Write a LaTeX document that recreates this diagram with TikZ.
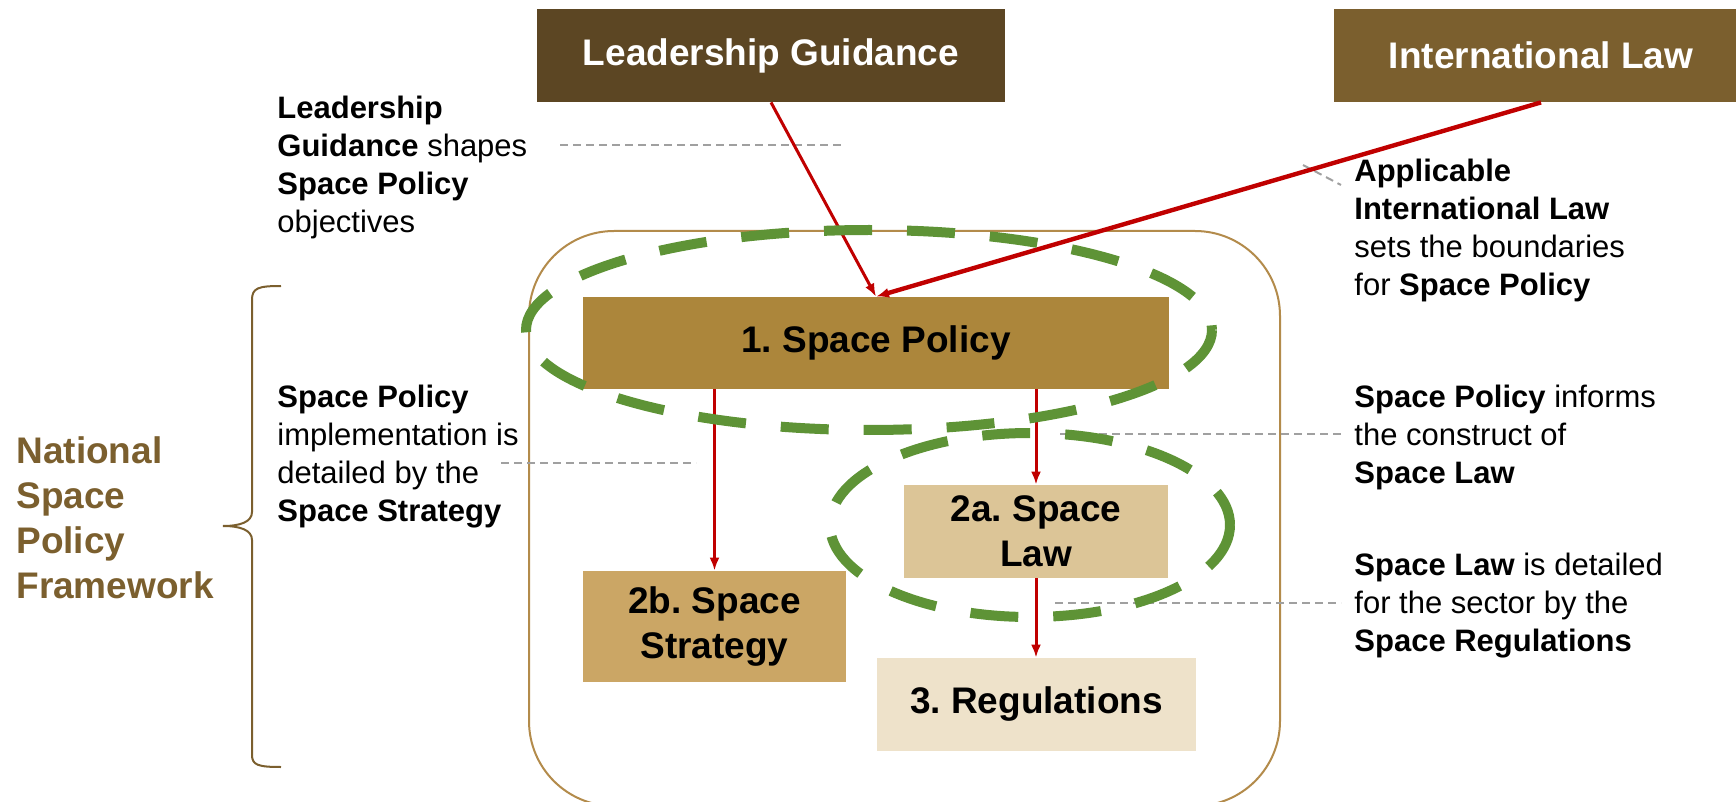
\documentclass[tikz,border=0pt]{standalone}
\usepackage{fontspec}
\setmainfont{Liberation Sans}
\usetikzlibrary{positioning,arrows.meta}

\definecolor{guidebrown}{HTML}{5C4623}
\definecolor{lawbrown}{HTML}{7B5F2E}
\definecolor{policygold}{HTML}{AC863B}
\definecolor{lawtan}{HTML}{DCC597}
\definecolor{strategytan}{HTML}{CBA665}
\definecolor{regcream}{HTML}{EEE2CA}
\definecolor{framebrown}{HTML}{B38B4B}
\definecolor{arrowred}{HTML}{C00000}
\definecolor{groupgreen}{HTML}{5E9336}
\definecolor{leadgray}{HTML}{A0A0A0}

\tikzset{
  box/.style={inner sep=0pt, align=center, font=\fontsize{18.5}{22.5}\selectfont\bfseries},
  note/.style={inner sep=0pt, align=left, anchor=base west, font=\fontsize{15.5}{19}\selectfont},
  flow/.style={-{Latex[length=6.5pt,width=5pt]}, arrowred, line width=1.5pt},
  leader/.style={leadgray, line width=1pt, dash pattern=on 4pt off 2.5pt},
  group/.style={groupgreen, line width=5pt, dash pattern=on 24pt off 17.5pt},
}

\begin{document}
\frenchspacing
\begin{tikzpicture}[x=0.5pt, y=-0.5pt]
		\useasboundingbox (0,0) rectangle (1736,802);
		% framework outline and brace
		\draw[framebrown, line width=1pt, rounded corners=42.5pt] (529,231) rectangle (1280,806);
		\draw[lawbrown, line width=1pt] (281,286) .. controls (258,286) and (252,288) .. (252,300) -- (252,512) .. controls (252,522) and (240,526) .. (223,526) .. controls (240,526) and (252,530) .. (252,540) -- (252,755) .. controls (252,765) and (258,767) .. (281,767);
		
		% last baselines
		\node[note, font=\fontsize{18.5}{22.5}\selectfont\bfseries, text=lawbrown] (npf) at (16,598) {National\\Space\\Policy\\Framework};
		
		% boxes
		\node[box, fill=guidebrown, text=white, minimum width=234pt, minimum height=46.5pt] (lg) at (771,55.5) {Leadership Guidance};
		\node[box, fill=lawbrown, text=white, minimum width=207pt, minimum height=46.5pt] (il) at (1541,55.5) {International Law};
		\node[box, fill=policygold, minimum width=293pt, minimum height=46pt] (sp) at (876,343) {1. Space Policy};
		\node[box, fill=lawtan, minimum width=132pt, minimum height=46.5pt] (sl) at (1036,531.5) {2a. Space\\Law};
		\node[box, fill=strategytan, minimum width=131.5pt, minimum height=55.5pt] (ss) at (714.5,626.5) {2b. Space\\Strategy};
		\node[box, fill=regcream, minimum width=159.5pt, minimum height=46.5pt] (reg) at (1036.5,704.5) {3. Regulations};
		
		% notes
		\node[note] (lgnote) at (277,233) {\textbf{Leadership}\\\textbf{Guidance} shapes\\\textbf{Space Policy}\\objectives};
		\node[note] (ilnote) at (1354,296) {\textbf{Applicable}\\\textbf{International Law}\\sets the boundaries\\for \textbf{Space Policy}};
		\node[note] (ssnote) at (277,521) {\textbf{Space Policy}\\implementation is\\detailed by the\\\textbf{Space Strategy}};
		\node[note] (slnote) at (1354,483) {\textbf{Space Policy} informs\\the construct of\\\textbf{Space Law}};
		\node[note] (regnote) at (1354,651) {\textbf{Space Law} is detailed\\for the sector by the\\\textbf{Space Regulations}};
		
		% leader lines
		\coordinate (lg1) at (560,145);
		\coordinate (lg2) at (845,145);
		\coordinate (il1) at (1303,165);
		\coordinate (il2) at (1341,185);
		\coordinate (ss1) at (501,463);
		\coordinate (ss2) at (696,463);
		\coordinate (sl1) at (1060,434);
		\coordinate (sl2) at (1341,434);
		\coordinate (reg1) at (1055,603);
		\coordinate (reg2) at (1341,603);
		\draw[leader] (lg1)--(lg2);
		\draw[leader] (il1)--(il2);
		\draw[leader] (ss1)--(ss2);
		\draw[leader] (sl1)--(sl2);
		\draw[leader] (reg1)--(reg2);
		
		% arrows
		\draw[flow] (lg.south)--(sp.north);
		\draw[flow, line width=2.2pt] (il.south)--(sp.north);
		\draw[flow] (ss.north |- sp.south)--(ss.north);
		\draw[flow] (sl.north |- sp.south)--(sl.north);
		\draw[flow] (sl.south)--(sl.south |- reg.north);
		
		% groupings
		\draw[group] (869,330) ellipse [x radius=343, y radius=100];
		\draw[group] (1030,525) ellipse [x radius=200, y radius=92];
	\end{tikzpicture}
\end{document}
